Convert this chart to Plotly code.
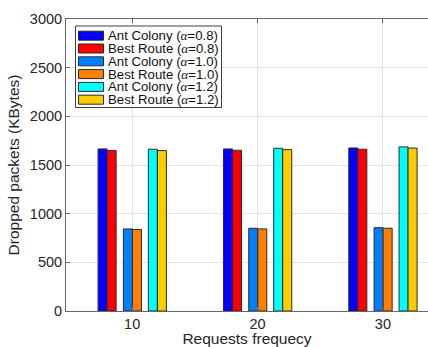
import plotly.graph_objects as go

# request frequency groups
freqs = [10, 20, 30]

series_names = [
    "Ant Colony (α=0.8)", "Best Route (α=0.8)",
    "Ant Colony (α=1.0)", "Best Route (α=1.0)",
    "Ant Colony (α=1.2)", "Best Route (α=1.2)",
]
ant_08 = [1665, 1665, 1675]
best_08 = [1648, 1651, 1662]
ant_10 = [843, 850, 856]
best_10 = [837, 843, 850]
ant_12 = [1662, 1672, 1686]
best_12 = [1648, 1658, 1674]
series_values = [ant_08, best_08, ant_10, best_10, ant_12, best_12]

colors = ["#0000FF", "#FF0000", "#0080FF", "#FF8000", "#00FFFF", "#FFCC00"]
offsets = [-2.72, -2.0, -0.70, 0.02, 1.29, 2.01]
bar_w = 0.72

# plot area in pixels
W, H = 428, 347
L, R, T, B = 66, 0, 19, 36
pw, ph = W - L - R, H - T - B


def px_x(x):
    return (x - L) / pw


def px_y(y):
    return (H - B - y) / ph


fig = go.Figure()
for name, vals, col, off in zip(series_names, series_values, colors, offsets):
    fig.add_trace(go.Bar(
        x=freqs, y=vals, name=name,
        offset=off, width=bar_w,
        marker=dict(color=col, line=dict(color="#2b2b2b", width=1)),
        showlegend=False,
    ))

# hand-drawn legend box (MATLAB style)
shapes = [dict(type="rect", xref="paper", yref="paper",
               x0=px_x(75.5), x1=px_x(221.5), y0=px_y(107.5), y1=px_y(26),
               line=dict(color="#404040", width=1), fillcolor="white", layer="above")]
annotations = []
for i, (name, col) in enumerate(zip(series_names, colors)):
    yc = 35.7 + 12.8 * i
    shapes.append(dict(type="rect", xref="paper", yref="paper",
                       x0=px_x(78.5), x1=px_x(103.5),
                       y0=px_y(yc + 4.5), y1=px_y(yc - 4.5),
                       line=dict(color="#2b2b2b", width=1), fillcolor=col, layer="above"))
    label = name.replace("α", "<span style='font-family:Liberation Serif;font-style:italic'>α</span>")
    annotations.append(dict(xref="paper", yref="paper", x=px_x(105.5), y=px_y(yc),
                            text=label, showarrow=False, xanchor="left", yanchor="middle",
                            font=dict(size=13.2, color="#111111")))

fig.update_layout(
    width=W, height=H,
    margin=dict(l=L, r=R, t=T, b=B),
    paper_bgcolor="white", plot_bgcolor="white",
    font=dict(family="Liberation Sans, Arial, sans-serif", color="#262626"),
    barmode="overlay",
    shapes=shapes, annotations=annotations,
    showlegend=False,
)
fig.update_xaxes(
    range=[4.72, 33.6], tickvals=freqs, ticktext=[str(f) for f in freqs],
    showgrid=True, gridcolor="#e3e3e3", zeroline=False,
    showline=True, linecolor="#666666", linewidth=1, mirror="ticks",
    ticks="inside", ticklen=4, tickcolor="#666666",
    tickfont=dict(size=14.5),
    title=dict(text="Requests frequecy", font=dict(size=15.5), standoff=4),
)
fig.update_yaxes(
    range=[0, 3000], dtick=500,
    showgrid=True, gridcolor="#e3e3e3", zeroline=False,
    showline=True, linecolor="#666666", linewidth=1,
    ticks="inside", ticklen=4, tickcolor="#666666",
    tickfont=dict(size=14.5),
    title=dict(text="Dropped packets (KBytes)", font=dict(size=15.5), standoff=6),
)

# drop the page's default body margin so the figure fills the window
fig.write_html("out.html", config={"displayModeBar": False},
               post_script="document.body.style.margin='0px';")
